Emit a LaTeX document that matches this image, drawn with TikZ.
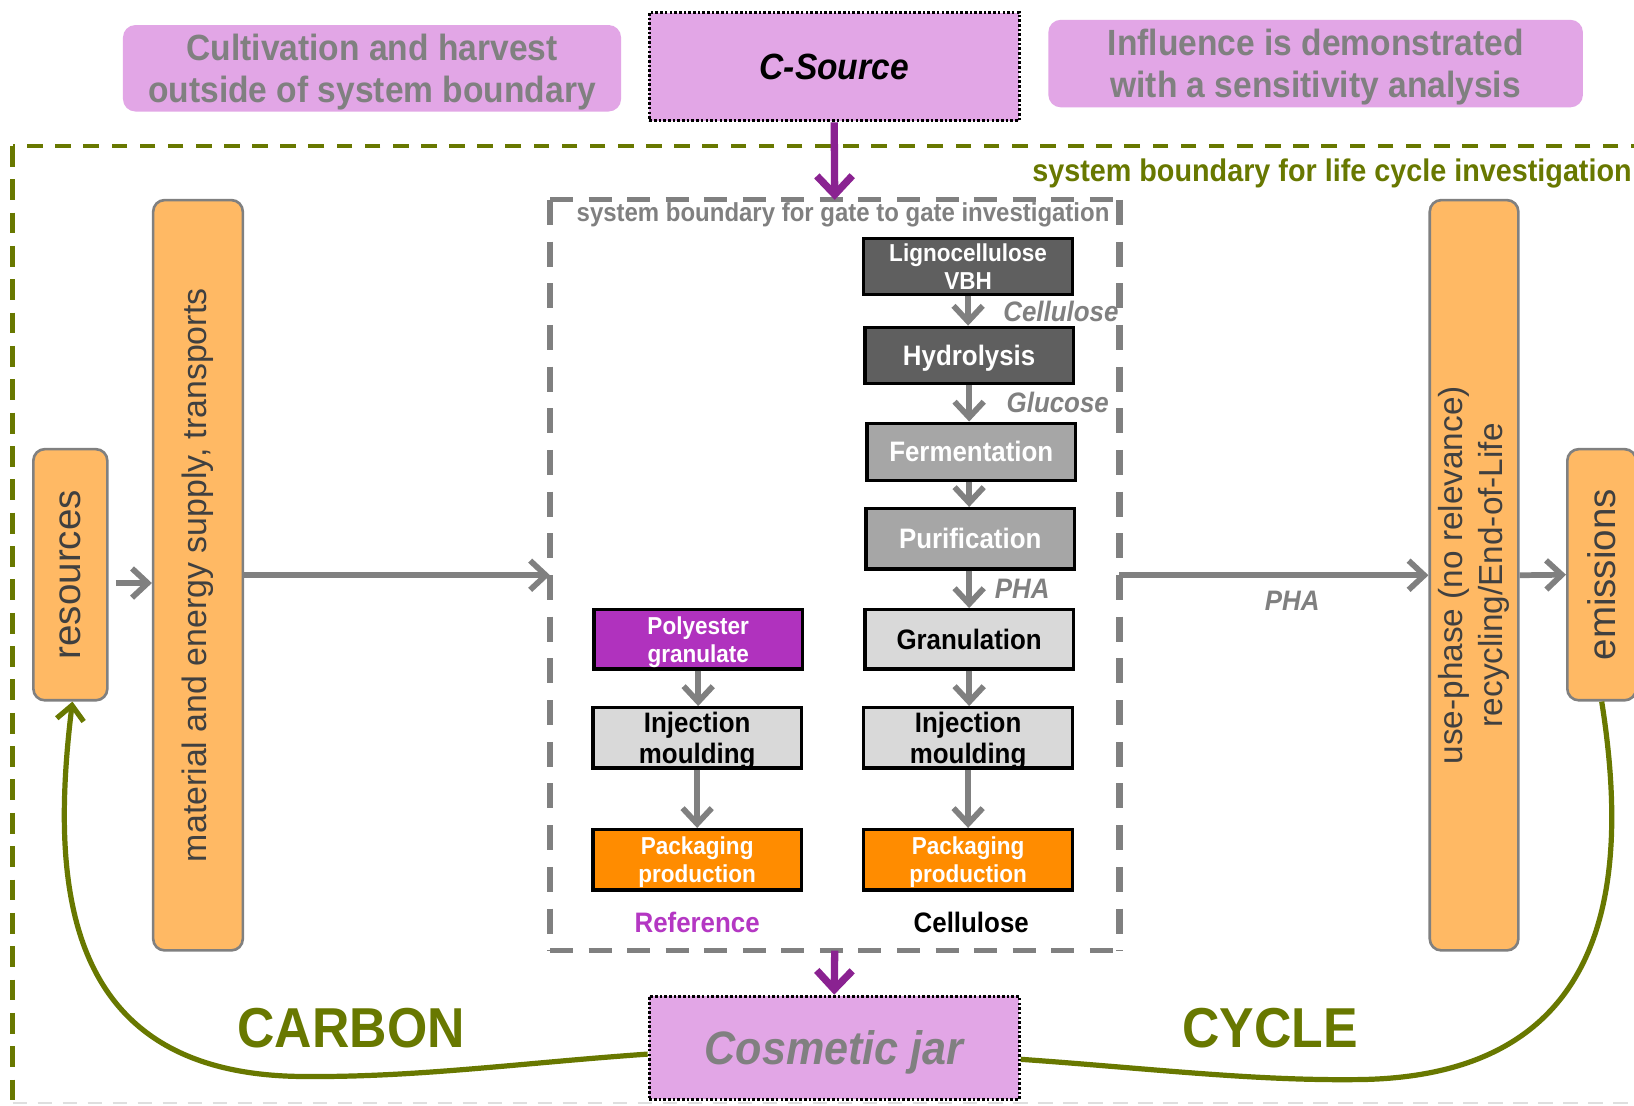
\documentclass[tikz,border=0pt]{standalone}
\usepackage{fontspec}
\setmainfont{Liberation Sans}
\newfontfamily\nar[FakeStretch=0.92]{Liberation Sans}
\usetikzlibrary{arrows.meta}
\definecolor{pinkbox}{RGB}{226,166,230}
\definecolor{txtgray}{RGB}{128,128,128}
\definecolor{olivec}{RGB}{104,120,0}
\definecolor{purplec}{RGB}{138,34,145}
\definecolor{lorange}{RGB}{255,185,100}
\definecolor{bordgray}{RGB}{128,128,128}
\definecolor{dgray}{RGB}{95,95,95}
\definecolor{mgray}{RGB}{166,166,166}
\definecolor{lgray}{RGB}{217,217,217}
\definecolor{polyc}{RGB}{176,50,190}
\definecolor{porange}{RGB}{255,140,0}
\definecolor{reftxt}{RGB}{180,55,195}
\definecolor{rottxt}{RGB}{64,64,64}
\tikzset{
  pbox/.style={rectangle, fill=pinkbox, rounded corners=12pt, inner sep=0pt, align=center, text depth=0pt, text=txtgray, font=\nar\bfseries\fontsize{35}{40}\selectfont},
  dotbox/.style={rectangle, fill=pinkbox, draw=black, line width=3pt, dash pattern=on 2.5pt off 2pt, inner sep=0pt, text depth=0pt},
  obox/.style={rectangle, fill=lorange, draw=bordgray, line width=2.5pt, rounded corners=11pt, inner sep=0pt},
  rtxt/.style={rotate=90, text=rottxt, align=center, inner sep=0pt},
  proc/.style={rectangle, draw=black, line width=3pt, minimum width=200pt, inner sep=0pt, align=center, text depth=0pt, font=\nar\bfseries\fontsize{27}{30}\selectfont},
  smallproc/.style={proc, font=\nar\bfseries\fontsize{23.5}{26.5}\selectfont},
  lbl/.style={text=txtgray, inner sep=0pt, font=\nar\bfseries\itshape\fontsize{27}{30}\selectfont},
  arr/.style={draw=txtgray, line width=5.5pt, -{Straight Barb[length=15pt,width=28pt]}},
  parr/.style={draw=purplec, line width=7pt, -{Straight Barb[length=18pt,width=34pt]}},
  cyc/.style={draw=olivec, line width=5pt},
  bigword/.style={text=olivec, inner sep=0pt, font=\nar\bfseries\fontsize{54}{60}\selectfont},
}
\begin{document}
\begin{tikzpicture}[x=1pt,y=-1pt]
\useasboundingbox[fill=white] (0,0) rectangle (1568,1061);

% outer life-cycle boundary
\draw[olivec, line width=4pt, dash pattern=on 15pt off 12pt] (1580,140) -- (12,140);
\draw[olivec, line width=4pt, dash pattern=on 20pt off 12pt] (12,140) -- (12,1058);
\draw[gray!25, line width=2pt, dash pattern=on 14pt off 10pt] (12,1058) -- (1580,1058);
\node[anchor=east, text=olivec, inner sep=0pt, font=\nar\bfseries\fontsize{30}{34}\selectfont] (lcl) at (1566,166) {system boundary for life cycle investigation};

% top boxes
\node[pbox, minimum width=478pt, minimum height=83pt] (cult) at (357,65.5) {Cultivation and harvest\\outside of system boundary};
\node[dotbox, minimum width=355pt, minimum height=104pt, font=\nar\bfseries\itshape\fontsize{35}{40}\selectfont] (csrc) at (800.5,64) {C-Source};
\node[pbox, minimum width=513pt, minimum height=84pt] (infl) at (1262.5,61) {Influence is demonstrated\\with a sensitivity analysis};

% gate-to-gate boundary
\node[rectangle, minimum width=546pt, minimum height=720pt, inner sep=0pt] (gate) at (801,552) {};
\draw[txtgray, line width=5pt, dash pattern=on 22pt off 15pt] (gate.north west) -- (gate.north east);
\draw[txtgray, line width=5pt, dash pattern=on 22pt off 15pt] (gate.south west) -- (gate.south east);
\draw[txtgray, line width=6pt, dash pattern=on 24pt off 16pt] (gate.north west) -- (gate.south west);
\draw[txtgray, line width=6pt, dash pattern=on 24pt off 16pt] (gate.north east) -- (gate.south east);
\node[text=txtgray, inner sep=0pt, font=\nar\bfseries\fontsize{25}{28}\selectfont] (gatel) at (809,206) {system boundary for gate to gate investigation};

% side boxes
\node[obox, minimum width=71pt, minimum height=241pt] (res) at (67.5,551.5) {};
\node[rtxt, font=\fontsize{37}{40}\selectfont] (tres) at (res) {resources};
\node[obox, minimum width=86pt, minimum height=720pt] (mat) at (190,552) {};
\node[rtxt, font=\fontsize{32.5}{36}\selectfont] (tmat) at (mat) {material and energy supply, transports};
\node[obox, minimum width=85pt, minimum height=720pt] (use) at (1414.5,552) {};
\node[rtxt, font=\fontsize{32}{38}\selectfont] (tuse) at (use) {use-phase (no relevance)\\recycling/End-of-Life};
\node[obox, minimum width=66pt, minimum height=241pt] (emis) at (1537,551.5) {};
\node[rtxt, font=\fontsize{37}{40}\selectfont] (temis) at (emis) {emissions};

% cellulose chain
\node[smallproc, fill=dgray, text=white, minimum height=54pt] (lig) at (929,256) {Lignocellulose\\VBH};
\node[proc, fill=dgray, text=white, minimum height=54pt] (hyd) at (930,341) {Hydrolysis};
\node[proc, fill=mgray, text=white, minimum height=55pt] (fer) at (932,433.5) {Fermentation};
\node[proc, fill=mgray, text=white, minimum height=58pt] (pur) at (931,517) {Purification};
\node[proc, fill=lgray, text=black, minimum height=57pt] (gra) at (930,613.5) {Granulation};
\node[proc, fill=lgray, text=black, minimum height=58pt] (inj2) at (929,708) {Injection\\moulding};
\node[smallproc, fill=porange, text=white, minimum height=58pt] (pak2) at (929,825) {Packaging\\production};
% reference chain
\node[smallproc, fill=polyc, text=white, minimum height=57pt] (pol) at (670,613.5) {Polyester\\granulate};
\node[proc, fill=lgray, text=black, minimum height=58pt] (inj1) at (669,708) {Injection\\moulding};
\node[smallproc, fill=porange, text=white, minimum height=58pt] (pak1) at (669,825) {Packaging\\production};

\draw[arr] (lig.south) -- (lig.south |- hyd.north);
\draw[arr] (hyd.south) -- (hyd.south |- fer.north);
\draw[arr] (fer.south -| hyd.south) -- (hyd.south |- pur.north);
\draw[arr] (pur.south -| hyd.south) -- (hyd.south |- gra.north);
\draw[arr] (gra.south) -- (gra.south |- inj2.north);
\draw[arr] (inj2.south) -- (pak2.north);
\draw[arr] (pol.south) -- (pol.south |- inj1.north);
\draw[arr] (inj1.south) -- (pak1.north);

\node[lbl] (lcel) at (1018,299) {Cellulose};
\node[lbl] (lglu) at (1015,386) {Glucose};
\node[lbl] (lpha) at (981,565) {PHA};

\node[text=reftxt, inner sep=0pt, font=\nar\bfseries\fontsize{27}{30}\selectfont] (lref) at (669,885) {Reference};
\node[text=black, inner sep=0pt, font=\nar\bfseries\fontsize{27}{30}\selectfont] (lcell) at (932,885) {Cellulose};

% flows
\draw[arr] ([xshift=7pt,yshift=-8pt]res.east) -- ([yshift=-8pt]mat.west |- res.east);
\draw[arr] (mat.east) -- (gate.west);
\draw[arr] (gate.east) -- (use.west);
\node[lbl] (lpha2) at (1240,577) {PHA};
\draw[arr] (use.east) -- (emis.west);

\draw[parr] (csrc.south) -- (gate.north);
\node[dotbox, minimum width=355pt, minimum height=99pt, text=txtgray, font=\nar\bfseries\itshape\fontsize{45}{50}\selectfont] (jar) at (800.5,1005.5) {Cosmetic jar};
\draw[parr] (gate.south) -- (jar.north);

% carbon cycle
\draw[cyc, -{Straight Barb[length=14pt,width=26pt]}] ([yshift=-6pt]jar.west) .. controls (500,1020) and (400,1034) .. (290,1033) .. controls (60,1031) and (48,850) .. ([xshift=2pt]res.south);
\draw[cyc] ([yshift=-11pt]jar.east) .. controls (1100,1025) and (1200,1037) .. (1300,1036) .. controls (1545,1035) and (1565,850) .. (emis.south);
\node[bigword] (carbon) at (337,987) {CARBON};
\node[bigword] (cycle) at (1219,987) {CYCLE};
\end{tikzpicture}
\end{document}
